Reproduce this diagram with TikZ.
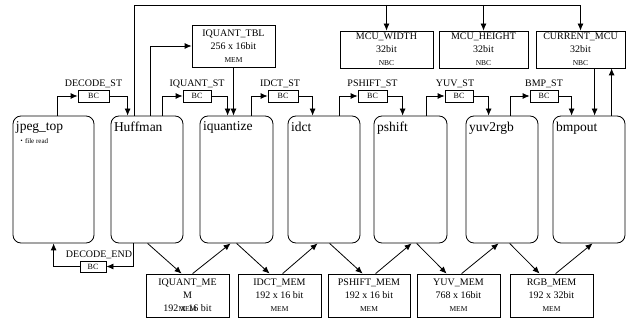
\documentclass[tikz,border=0pt]{standalone}
\usepackage{fontspec}
\setmainfont{Liberation Serif}
\newfontfamily\cjk{Noto Sans CJK JP}
\usetikzlibrary{arrows.meta,positioning,calc}
\tikzset{
  module/.style={draw,rounded corners=8pt,minimum width=72pt,minimum height=127pt,inner sep=0pt},
  bcbox/.style={draw,minimum width=29pt,minimum height=12pt,inner sep=0pt,font=\fontsize{8}{9}\selectfont},
  membox/.style={draw,minimum width=83pt,minimum height=43pt,inner sep=0pt,align=center,font=\fontsize{10}{13}\selectfont},
  nbcbox/.style={membox,minimum width=89pt,minimum height=37pt},
}
\newcommand{\memtag}[1]{{\fontsize{7.5}{8}\selectfont #1}}

\begin{document}
\begin{tikzpicture}[
  x=1pt,y=-1pt,
  line width=0.8pt,
  arr/.style={-{Latex[length=7pt,width=6pt]}},
  lab/.style={font=\fontsize{10}{11}\selectfont,inner sep=1pt},
  modlab/.style={anchor=north west,inner sep=0pt,xshift=3pt,yshift=-6pt,font=\fontsize{13.5}{15}\selectfont}
]
\useasboundingbox (0,0) rectangle (626,320);

% modules
\node[module,minimum width=81pt,label={[modlab]north west:jpeg\_top},
  label={[modlab,xshift=2pt,yshift=-17pt,font=\fontsize{7}{8}\selectfont]north west:{{\cjk ・}file read}}] (jpeg) at (53.5,179.5) {};
\node[module,label={[modlab]north west:Huffman}] (huff) at (147,179.5) {};
\node[module,minimum width=73pt,label={[modlab]north west:iquantize}] (iq) at (236.5,179.5) {};
\node[module,label={[modlab]north west:idct}] (idct) at (324,179.5) {};
\node[module,minimum width=73pt,label={[modlab]north west:pshift}] (pshift) at (410.5,179.5) {};
\node[module,label={[modlab]north west:yuv2rgb}] (yuv) at (502,179.5) {};
\node[module,label={[modlab]north west:bmpout}] (bmp) at (589,179.5) {};

% BC handshakes
\node[bcbox,minimum width=31pt] (bc1) at (93.5,96) {BC};
\node[bcbox,minimum width=28pt] (bc2) at (197,96) {BC};
\node[bcbox,minimum width=30pt] (bc3) at (283,96) {BC};
\node[bcbox] (bc4) at (372.5,96) {BC};
\node[bcbox,minimum width=28pt] (bc5) at (459,96) {BC};
\node[bcbox,minimum width=28pt] (bc6) at (544,96) {BC};
\node[bcbox,minimum width=26pt,minimum height=11pt] (bcEnd) at (93,266.5) {BC};

\node[lab,above=0pt of bc1] (l1) {DECODE\_ST};
\node[lab,above=0pt of bc2] (l2) {IQUANT\_ST};
\node[lab,above=0pt of bc3,xshift=-3pt] (l3) {IDCT\_ST};
\node[lab,above=0pt of bc4] (l4) {PSHIFT\_ST};
\node[lab,above=0pt of bc5,xshift=-4pt] (l5) {YUV\_ST};
\node[lab,above=0pt of bc6] (l6) {BMP\_ST};
\node[lab,above=0pt of bcEnd,xshift=6pt] (lEnd) {DECODE\_END};

% memories
\node[membox,minimum height=42pt] (tbl) at (233.5,46) {IQUANT\_TBL\\256 x 16bit\\\memtag{MEM}};
\node[nbcbox,minimum width=93pt] (mw) at (386.5,49.5) {MCU\_WIDTH\\32bit\\\memtag{NBC}};
\node[nbcbox] (mh) at (483.5,49.5) {MCU\_HEIGHT\\32bit\\\memtag{NBC}};
\node[nbcbox] (cur) at (580.5,49.5) {CURRENT\_MCU\\32bit\\\memtag{NBC}};

\node[membox] (m1) at (187.5,295.5) {IQUANT\_ME\\M\\\makebox[0pt]{192 x 16 bit}\makebox[0pt]{\memtag{MEM}}};
\node[membox] (m2) at (279.5,295.5) {IDCT\_MEM\\192 x 16 bit\\\memtag{MEM}};
\node[membox,minimum width=82pt] (m3) at (369,295.5) {PSHIFT\_MEM\\192 x 16 bit\\\memtag{MEM}};
\node[membox] (m4) at (458.5,295.5) {YUV\_MEM\\768 x 16bit\\\memtag{MEM}};
\node[membox] (m5) at (551.5,295.5) {RGB\_MEM\\192 x 32bit\\\memtag{MEM}};

% start signals
\draw[arr] ([xshift=45pt]jpeg.north west) |- (bc1.west);
\draw[arr] (bc1.east) -| ([xshift=17pt]huff.north west);
\draw[arr] ([xshift=52pt]huff.north west) |- (bc2.west);
\draw[arr] (bc2.east) -| ([xshift=28pt]iq.north west);
\draw[arr] ([xshift=52pt]iq.north west) |- (bc3.west);
\draw[arr] (bc3.east) -| ([xshift=25pt]idct.north west);
\draw[arr] ([xshift=52pt]idct.north west) |- (bc4.west);
\draw[arr] (bc4.east) -| ([xshift=29pt]pshift.north west);
\draw[arr] ([xshift=53pt]pshift.north west) |- (bc5.west);
\draw[arr] (bc5.east) -| ([xshift=23pt]yuv.north west);
\draw[arr] ([xshift=45pt]yuv.north west) |- (bc6.west);
\draw[arr] (bc6.east) -| ([xshift=19pt]bmp.north west);

% end signal
\draw[arr] ([xshift=23pt]huff.south west) |- (bcEnd.east);
\draw[arr] (bcEnd.west) -| ([xshift=41pt]jpeg.south west);

% table and registers
\draw[arr] ([xshift=40pt]huff.north west) |- (tbl.west);
\draw[arr] (tbl.south) -- (tbl.south |- iq.north);

\coordinate (bus) at (0,5);
\draw[arr] ([xshift=24pt]huff.north west) |- (bus -| cur.north) -- (cur.north);
\draw[arr] (bus -| mw.north) -- (mw.north);
\draw[arr] (bus -| mh.north) -- (mh.north);

\coordinate (bmpin) at ([xshift=42pt]bmp.north west);
\coordinate (bmpout) at ([xshift=59pt]bmp.north west);
\draw[arr] (bmpin |- cur.south) -- (bmpin);
\draw[arr] (bmpout) -- (bmpout |- cur.south);

% data memories
\draw[arr] ([xshift=37pt]huff.south west) -- ([xshift=36pt]m1.north west);
\draw[arr] ([xshift=47pt]m1.north west) -- ([xshift=31pt]iq.south west);
\draw[arr] ([xshift=37pt]iq.south west) -- ([xshift=32pt]m2.north west);
\draw[arr] ([xshift=45pt]m2.north west) -- ([xshift=30pt]idct.south west);
\draw[arr] ([xshift=42pt]idct.south west) -- ([xshift=35pt]m3.north west);
\draw[arr] ([xshift=48pt]m3.north west) -- ([xshift=38pt]pshift.south west);
\draw[arr] ([xshift=43pt]pshift.south west) -- ([xshift=30pt]m4.north west);
\draw[arr] ([xshift=45pt]m4.north west) -- ([xshift=33pt]yuv.south west);
\draw[arr] ([xshift=44pt]yuv.south west) -- ([xshift=30pt]m5.north west);
\draw[arr] ([xshift=46pt]m5.north west) -- ([xshift=40pt]bmp.south west);

\end{tikzpicture}
\end{document}
